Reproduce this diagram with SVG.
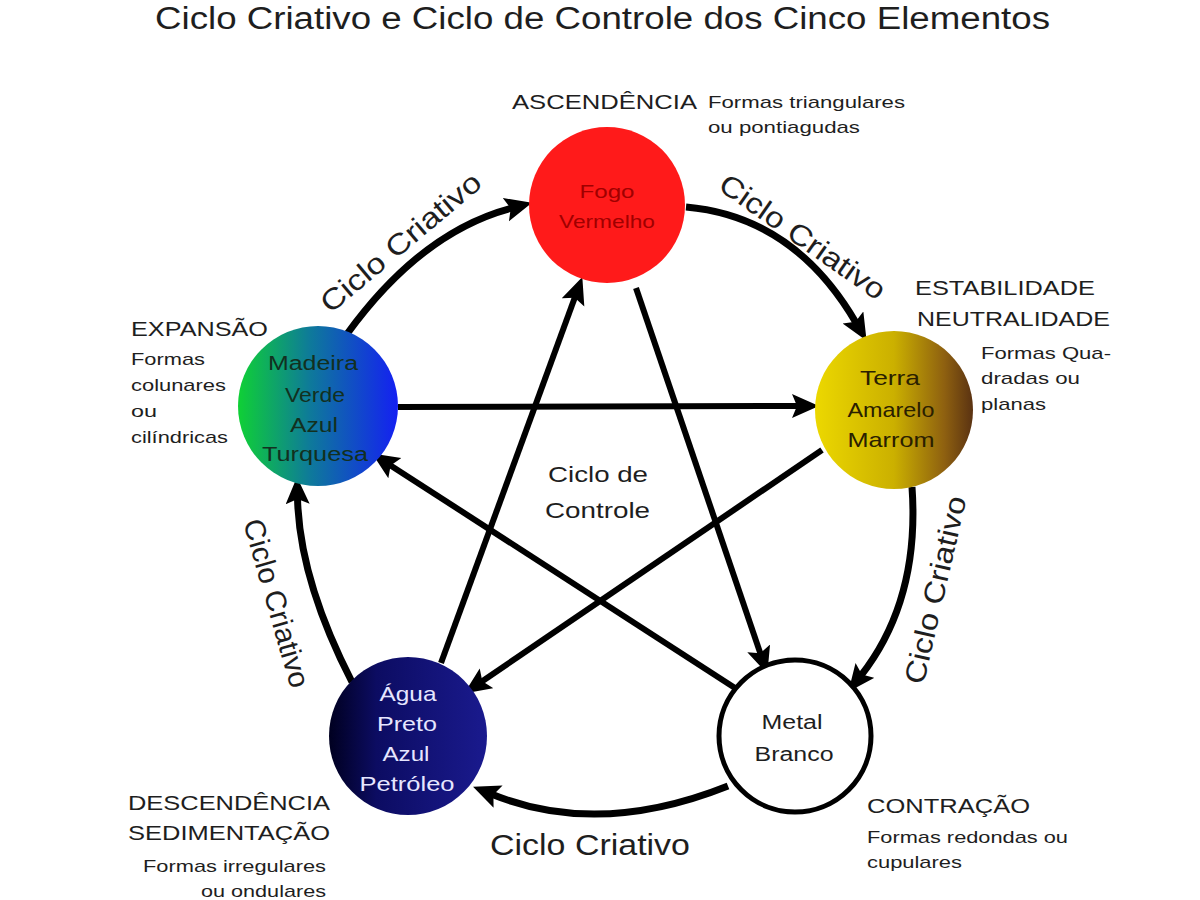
<svg xmlns="http://www.w3.org/2000/svg" width="1200" height="900" viewBox="0 0 1200 900">
<defs>
<style>
text{font-family:"Liberation Sans",Arial,sans-serif;fill:#1e1e1e;}
.title{font-size:31px;}
.lab{font-size:21px;}
.sub{font-size:17px;}
.cyc{font-size:29px;}
.ctl{font-size:22px;}
.nt{font-size:20px;text-anchor:middle;}
.arc{fill:none;stroke:#000;stroke-width:7;}
.ln{fill:none;stroke:#000;stroke-width:6;}
</style>
<marker id="ah" markerUnits="userSpaceOnUse" markerWidth="30" markerHeight="26" refX="6" refY="12" orient="auto">
<path d="M0,0 L27,12 L0,24 L5,12 z" fill="#000"/>
</marker>
<linearGradient id="gMad" x1="0" y1="0" x2="1" y2="0">
<stop offset="0" stop-color="#0fd035"/>
<stop offset="0.45" stop-color="#0e7a9a"/>
<stop offset="1" stop-color="#1420f2"/>
</linearGradient>
<linearGradient id="gTer" x1="0" y1="0" x2="1" y2="0">
<stop offset="0" stop-color="#ecd800"/>
<stop offset="0.5" stop-color="#cbb000"/>
<stop offset="0.82" stop-color="#8e6010"/>
<stop offset="1" stop-color="#5a3212"/>
</linearGradient>
<linearGradient id="gAgu" x1="0" y1="0" x2="1" y2="0">
<stop offset="0" stop-color="#000020"/>
<stop offset="0.3" stop-color="#0c0c62"/>
<stop offset="1" stop-color="#1a1a8e"/>
</linearGradient>
</defs>
<rect width="1200" height="900" fill="#fff"/>

<text class="title" x="155" y="29" textLength="895" lengthAdjust="spacingAndGlyphs">Ciclo Criativo e Ciclo de Controle dos Cinco Elementos</text>

<g id="connectors">
<!-- creative cycle -->
<path class="arc" d="M347,334 Q421,232 511.7,208.1" marker-end="url(#ah)"/>
<path class="arc" d="M686,207 Q794,216.5 856,322.7" marker-end="url(#ah)"/>
<path class="arc" d="M912,487 Q920,600 861.3,675.2" marker-end="url(#ah)"/>
<path class="arc" d="M728,786 Q599,837.5 492.5,794.5" marker-end="url(#ah)"/>
<path class="arc" d="M352,682 Q299.5,580 297.5,498" marker-end="url(#ah)"/>
<!-- control cycle -->
<path class="ln" d="M398,407 L798,406" marker-end="url(#ah)"/>
<path class="ln" d="M822,450 L481.5,681.7" marker-end="url(#ah)"/>
<path class="ln" d="M441,663 L575.1,296.8" marker-end="url(#ah)"/>
<path class="ln" d="M636,288 L760.6,654.1" marker-end="url(#ah)"/>
<path class="ln" d="M735,688 L389.8,464.9" marker-end="url(#ah)"/>
</g>

<g id="labels-cycle">
<text class="cyc" text-anchor="middle" x="407" y="250" textLength="200" lengthAdjust="spacingAndGlyphs" transform="rotate(-40 407 250)">Ciclo Criativo</text>
<text class="cyc" text-anchor="middle" x="797" y="245" textLength="196" lengthAdjust="spacingAndGlyphs" transform="rotate(35 797 245)">Ciclo Criativo</text>
<text class="cyc" text-anchor="middle" x="945" y="592" textLength="192" lengthAdjust="spacingAndGlyphs" transform="rotate(-77 945 592)">Ciclo Criativo</text>
<text class="cyc" text-anchor="middle" x="267" y="606" textLength="174" lengthAdjust="spacingAndGlyphs" transform="rotate(74 267 606)">Ciclo Criativo</text>
<text class="cyc" x="490" y="855" textLength="200" lengthAdjust="spacingAndGlyphs">Ciclo Criativo</text>
<text class="ctl" x="548" y="482" textLength="100" lengthAdjust="spacingAndGlyphs">Ciclo de</text>
<text class="ctl" x="545" y="518" textLength="105" lengthAdjust="spacingAndGlyphs">Controle</text>
</g>

<g id="fogo">
<circle cx="607" cy="205" r="78" fill="#ff1a1a"/>
<text class="nt" x="607" y="198" style="fill:#a00000;font-size:19px" textLength="55" lengthAdjust="spacingAndGlyphs">Fogo</text>
<text class="nt" x="607" y="228" style="fill:#a00000;font-size:19px" textLength="96" lengthAdjust="spacingAndGlyphs">Vermelho</text>
<text class="lab" x="512" y="109" textLength="185" lengthAdjust="spacingAndGlyphs">ASCENDÊNCIA</text>
<text class="sub" x="708" y="108" textLength="197" lengthAdjust="spacingAndGlyphs">Formas triangulares</text>
<text class="sub" x="708" y="133" textLength="152" lengthAdjust="spacingAndGlyphs">ou pontiagudas</text>
</g>

<g id="madeira">
<circle cx="318" cy="406" r="80" fill="url(#gMad)"/>
<text class="nt" x="313" y="370" style="fill:#123020" textLength="90" lengthAdjust="spacingAndGlyphs">Madeira</text>
<text class="nt" x="315" y="402" style="fill:#123020" textLength="60" lengthAdjust="spacingAndGlyphs">Verde</text>
<text class="nt" x="314" y="432" style="fill:#123020" textLength="48" lengthAdjust="spacingAndGlyphs">Azul</text>
<text class="nt" x="315" y="461" style="fill:#123020" textLength="106" lengthAdjust="spacingAndGlyphs">Turquesa</text>
<text class="lab" x="131" y="336" textLength="137" lengthAdjust="spacingAndGlyphs">EXPANSÃO</text>
<text class="sub" x="131" y="365" textLength="74" lengthAdjust="spacingAndGlyphs">Formas</text>
<text class="sub" x="131" y="391" textLength="95" lengthAdjust="spacingAndGlyphs">colunares</text>
<text class="sub" x="131" y="417" textLength="26" lengthAdjust="spacingAndGlyphs">ou</text>
<text class="sub" x="131" y="443" textLength="97" lengthAdjust="spacingAndGlyphs">cilíndricas</text>
</g>

<g id="terra">
<circle cx="894" cy="410" r="79" fill="url(#gTer)"/>
<text class="nt" x="890" y="385" style="fill:#2a2000;font-size:21px" textLength="60" lengthAdjust="spacingAndGlyphs">Terra</text>
<text class="nt" x="891" y="417" style="fill:#2a2000;font-size:21px" textLength="87" lengthAdjust="spacingAndGlyphs">Amarelo</text>
<text class="nt" x="891" y="447" style="fill:#2a2000;font-size:21px" textLength="87" lengthAdjust="spacingAndGlyphs">Marrom</text>
<text class="lab" x="915" y="295" textLength="180" lengthAdjust="spacingAndGlyphs">ESTABILIDADE</text>
<text class="lab" x="917" y="326" textLength="193" lengthAdjust="spacingAndGlyphs">NEUTRALIDADE</text>
<text class="sub" x="981" y="359" textLength="130" lengthAdjust="spacingAndGlyphs">Formas Qua-</text>
<text class="sub" x="981" y="384" textLength="99" lengthAdjust="spacingAndGlyphs">dradas ou</text>
<text class="sub" x="981" y="410" textLength="65" lengthAdjust="spacingAndGlyphs">planas</text>
</g>

<g id="agua">
<circle cx="408" cy="736" r="79" fill="url(#gAgu)"/>
<text class="nt" x="408" y="701" style="fill:#e6e6ff;font-size:21px" textLength="57" lengthAdjust="spacingAndGlyphs">Água</text>
<text class="nt" x="407" y="731" style="fill:#e6e6ff;font-size:21px" textLength="60" lengthAdjust="spacingAndGlyphs">Preto</text>
<text class="nt" x="406" y="761" style="fill:#e6e6ff;font-size:21px" textLength="47" lengthAdjust="spacingAndGlyphs">Azul</text>
<text class="nt" x="407" y="791" style="fill:#e6e6ff;font-size:21px" textLength="95" lengthAdjust="spacingAndGlyphs">Petróleo</text>
<text class="lab" x="128" y="810" textLength="202" lengthAdjust="spacingAndGlyphs">DESCENDÊNCIA</text>
<text class="lab" x="128" y="840" textLength="202" lengthAdjust="spacingAndGlyphs">SEDIMENTAÇÃO</text>
<text class="sub" x="143" y="872" textLength="183" lengthAdjust="spacingAndGlyphs">Formas irregulares</text>
<text class="sub" x="201" y="897" textLength="125" lengthAdjust="spacingAndGlyphs">ou ondulares</text>
</g>

<g id="metal">
<circle cx="795" cy="736" r="76" fill="#fff" stroke="#000" stroke-width="5"/>
<text class="nt" x="792" y="729" textLength="61" lengthAdjust="spacingAndGlyphs">Metal</text>
<text class="nt" x="794" y="761" textLength="79" lengthAdjust="spacingAndGlyphs">Branco</text>
<text class="lab" x="867" y="813" textLength="163" lengthAdjust="spacingAndGlyphs">CONTRAÇÃO</text>
<text class="sub" x="867" y="843" textLength="201" lengthAdjust="spacingAndGlyphs">Formas redondas ou</text>
<text class="sub" x="867" y="868" textLength="95" lengthAdjust="spacingAndGlyphs">cupulares</text>
</g>
</svg>
